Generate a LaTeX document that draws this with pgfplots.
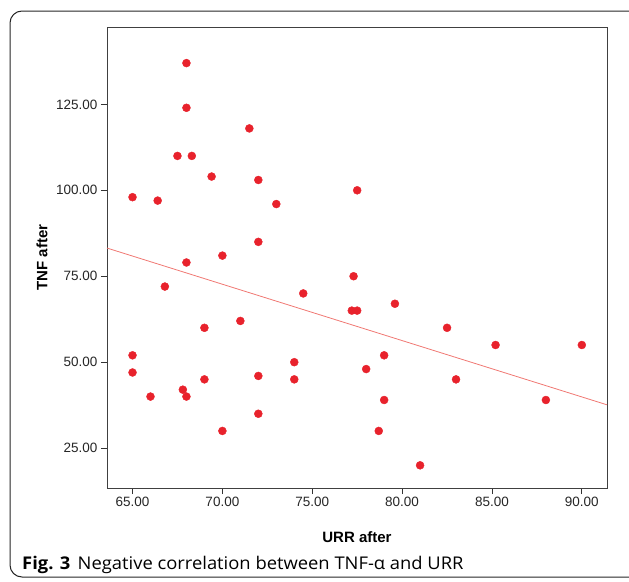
\documentclass[border=0pt]{standalone}
\usepackage{pgfplots}
\pgfplotsset{compat=1.18}
\usepackage{fontspec}
\setmainfont{Liberation Sans}
\newfontfamily\capfont{Open Sans}
\definecolor{ptred}{RGB}{232,34,44}
\definecolor{fitred}{RGB}{240,120,115}
\begin{document}
\begin{tikzpicture}[x=1pt,y=1pt]
\path[use as bounding box] (0,0) rectangle (629,-581);
\draw[line width=1pt, rounded corners=12pt, black!85] (650,-11) -- (10,-11) -- (10,-577) -- (650,-577);
\begin{axis}[
  at={(107pt,-27pt)}, anchor=north west,
  scale only axis, width=500pt, height=461pt,
  xmin=63.58, xmax=91.4, ymin=13.4, ymax=147.5,
  xtick={65,70,75,80,85,90}, ytick={25,50,75,100,125},
  xticklabel={\pgfmathprintnumber[fixed,fixed zerofill,precision=2]{\tick}},
  yticklabel={\pgfmathprintnumber[fixed,fixed zerofill,precision=2]{\tick}},
  /pgf/number format/assume math mode=true,
  tick align=outside, tick pos=left, major tick length=6pt,
  tick style={black!80, line width=0.8pt},
  axis line style={black!75, line width=0.9pt},
  ticklabel style={font=\fontsize{13.5}{13.5}\selectfont, text=black!85},
  xlabel={\textbf{URR after}}, ylabel={\textbf{TNF after}},
  label style={font=\fontsize{15}{15}\selectfont},
  xlabel style={at={(axis description cs:0.5,-0.106)}, anchor=center},
  ylabel style={at={(axis description cs:-0.13,0.5)}, anchor=center},
  clip=false,
]
\addplot[fitred, line width=0.8pt] coordinates {(63.58,83.2) (91.4,37.6)};
\addplot[only marks, mark=*, mark size=4pt, mark options={fill=ptred, draw=ptred}] coordinates {
(68,137) (68,124) (67.5,110) (68.3,110) (69.4,104) (71.5,118) (72,103) (77.5,100)
(65,98) (66.4,97) (73,96) (72,85) (70,81) (68,79) (66.8,72) (77.3,75) (74.5,70)
(79.6,67) (77.2,65) (77.5,65) (71,62) (69,60) (82.5,60) (85.2,55) (90,55)
(65,52) (79,52) (74,50) (78,48) (65,47) (72,46) (69,45) (74,45) (83,45)
(67.8,42) (66,40) (68,40) (79,39) (88,39) (72,35) (70,30) (78.7,30) (81,20)
};
\end{axis}
\node[anchor=base west, inner sep=0pt, xscale=1.05, font=\capfont\fontsize{17.5}{17.5}\selectfont] at (22,-569) {\textbf{Fig. 3}\hspace{7pt}Negative correlation between TNF-α and URR};
\end{tikzpicture}
\end{document}
